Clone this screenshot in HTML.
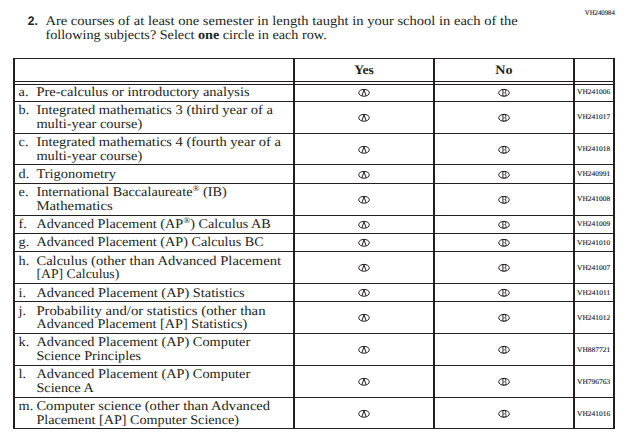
<!DOCTYPE html><html><head><meta charset="utf-8"><style>
html,body{margin:0;padding:0;background:#fff;}
body{text-rendering:geometricPrecision;width:629px;height:441px;position:relative;overflow:hidden;font-family:"Liberation Serif",serif;color:#231f20;}
.t{position:absolute;left:0;top:0;white-space:nowrap;font-size:13.2px;line-height:14px;transform-origin:0 0;}
.c{position:absolute;left:0;top:0;color:#120e10;-webkit-text-stroke:0.1px #120e10;white-space:nowrap;font-size:7.2px;line-height:8px;transform-origin:0 0;}
.h{position:absolute;left:0;top:0;font-weight:bold;font-size:13px;line-height:14px;white-space:nowrap;transform-origin:0 0;color:#231f20;}
sup{font-size:8.6px;line-height:0;vertical-align:4.6px;}
svg{position:absolute;left:0;top:0;}
</style></head><body>

<svg width="629" height="441" viewBox="0 0 629 441" shape-rendering="crispEdges"><g fill="#231f20"><rect x="13" y="58" width="602" height="1"/><rect x="13" y="81" width="602" height="1"/><rect x="13" y="84" width="602" height="1"/><rect x="13" y="101" width="602" height="1"/><rect x="13" y="133" width="602" height="1"/><rect x="13" y="164" width="602" height="1"/><rect x="13" y="183" width="602" height="1"/><rect x="13" y="215" width="602" height="1"/><rect x="13" y="233" width="602" height="1"/><rect x="13" y="251" width="602" height="1"/><rect x="13" y="283" width="602" height="1"/><rect x="13" y="301" width="602" height="1"/><rect x="13" y="333" width="602" height="1"/><rect x="13" y="365" width="602" height="1"/><rect x="13" y="397" width="602" height="1"/><rect x="13" y="428" width="602" height="1"/><rect x="13" y="58" width="2" height="371"/><rect x="293" y="58" width="2" height="371"/><rect x="433" y="58" width="2" height="371"/><rect x="573" y="58" width="2" height="371"/><rect x="613" y="58" width="2" height="371"/></g></svg>
<div class="t" style="transform:translate(27.8px,14.00px) scaleX(0.9764);font-family:'Liberation Sans',sans-serif;font-weight:bold;font-size:12.4px;color:#231f20;">2.</div>
<div class="t" style="transform:translate(45.4px,14.00px) scaleX(1.1023);">Are courses of at least one semester in length taught in your school in each of the</div>
<div class="t" style="transform:translate(45.4px,28.00px) scaleX(1.0764);">following subjects? Select <b>one</b> circle in each row.</div>
<div class="c" style="transform:translate(584.8px,9.00px) scaleX(0.9420);">VH240984</div>
<div class="h" style="transform:translate(354.3px,63.00px) scaleX(1.0436);">Yes</div>
<div class="h" style="transform:translate(495.3px,63.00px) scaleX(1.0887);">No</div>
<div class="t" style="transform:translate(18.6px,85.00px) scaleX(1.0800);">a.</div>
<div class="t" style="transform:translate(36.4px,85.00px) scaleX(1.1010);">Pre-calculus or introductory analysis</div>
<div class="c" style="transform:translate(577.0px,88.00px) scaleX(1.0390);">VH241006</div>
<div class="t" style="transform:translate(18.6px,103.00px) scaleX(1.0800);">b.</div>
<div class="t" style="transform:translate(36.4px,103.00px) scaleX(1.0989);">Integrated mathematics 3 (third year of a</div>
<div class="t" style="transform:translate(36.4px,117.00px) scaleX(1.0912);">multi-year course)</div>
<div class="c" style="transform:translate(577.0px,113.00px) scaleX(1.0390);">VH241017</div>
<div class="t" style="transform:translate(18.6px,135.00px) scaleX(1.0800);">c.</div>
<div class="t" style="transform:translate(36.4px,135.00px) scaleX(1.0987);">Integrated mathematics 4 (fourth year of a</div>
<div class="t" style="transform:translate(36.4px,149.00px) scaleX(1.0912);">multi-year course)</div>
<div class="c" style="transform:translate(577.0px,145.00px) scaleX(1.0390);">VH241018</div>
<div class="t" style="transform:translate(18.6px,167.00px) scaleX(1.0800);">d.</div>
<div class="t" style="transform:translate(36.4px,167.00px) scaleX(1.0948);">Trigonometry</div>
<div class="c" style="transform:translate(577.0px,170.00px) scaleX(1.0390);">VH240991</div>
<div class="t" style="transform:translate(18.6px,185.00px) scaleX(1.0800);">e.</div>
<div class="t" style="transform:translate(36.4px,185.00px) scaleX(1.0792);">International Baccalaureate<sup>&reg;</sup> (IB)</div>
<div class="t" style="transform:translate(36.4px,199.00px) scaleX(1.1215);">Mathematics</div>
<div class="c" style="transform:translate(577.0px,195.00px) scaleX(1.0390);">VH241008</div>
<div class="t" style="transform:translate(18.6px,217.00px) scaleX(1.0800);">f.</div>
<div class="t" style="transform:translate(36.4px,217.00px) scaleX(1.0777);">Advanced Placement (AP<sup>&reg;</sup>) Calculus AB</div>
<div class="c" style="transform:translate(577.0px,220.00px) scaleX(1.0390);">VH241009</div>
<div class="t" style="transform:translate(18.6px,235.00px) scaleX(1.0800);">g.</div>
<div class="t" style="transform:translate(36.4px,235.00px) scaleX(1.0774);">Advanced Placement (AP) Calculus BC</div>
<div class="c" style="transform:translate(577.0px,239.00px) scaleX(1.0390);">VH241010</div>
<div class="t" style="transform:translate(18.6px,254.00px) scaleX(1.0800);">h.</div>
<div class="t" style="transform:translate(36.4px,254.00px) scaleX(1.1058);">Calculus (other than Advanced Placement</div>
<div class="t" style="transform:translate(36.4px,267.00px) scaleX(1.0430);">[AP] Calculus)</div>
<div class="c" style="transform:translate(577.0px,264.00px) scaleX(1.0390);">VH241007</div>
<div class="t" style="transform:translate(18.6px,286.00px) scaleX(1.0800);">i.</div>
<div class="t" style="transform:translate(36.4px,286.00px) scaleX(1.0869);">Advanced Placement (AP) Statistics</div>
<div class="c" style="transform:translate(577.0px,289.00px) scaleX(1.0477);">VH241011</div>
<div class="t" style="transform:translate(18.6px,304.00px) scaleX(1.0800);">j.</div>
<div class="t" style="transform:translate(36.4px,304.00px) scaleX(1.1170);">Probability and/or statistics (other than</div>
<div class="t" style="transform:translate(36.4px,317.00px) scaleX(1.0759);">Advanced Placement [AP] Statistics)</div>
<div class="c" style="transform:translate(577.0px,314.00px) scaleX(1.0390);">VH241012</div>
<div class="t" style="transform:translate(18.6px,335.00px) scaleX(1.0800);">k.</div>
<div class="t" style="transform:translate(36.4px,335.00px) scaleX(1.0871);">Advanced Placement (AP) Computer</div>
<div class="t" style="transform:translate(36.4px,349.00px) scaleX(1.0778);">Science Principles</div>
<div class="c" style="transform:translate(577.0px,346.00px) scaleX(1.0390);">VH887721</div>
<div class="t" style="transform:translate(18.6px,367.00px) scaleX(1.0800);">l.</div>
<div class="t" style="transform:translate(36.4px,367.00px) scaleX(1.0871);">Advanced Placement (AP) Computer</div>
<div class="t" style="transform:translate(36.4px,381.00px) scaleX(1.0789);">Science A</div>
<div class="c" style="transform:translate(577.0px,378.00px) scaleX(1.0390);">VH796763</div>
<div class="t" style="transform:translate(18.6px,399.00px) scaleX(1.0800);">m.</div>
<div class="t" style="transform:translate(36.4px,399.00px) scaleX(1.1041);">Computer science (other than Advanced</div>
<div class="t" style="transform:translate(36.4px,413.00px) scaleX(1.0742);">Placement [AP] Computer Science)</div>
<div class="c" style="transform:translate(577.0px,410.00px) scaleX(1.0390);">VH241016</div>
<svg width="629" height="441" viewBox="0 0 629 441"><g fill="none" stroke="#231f20" stroke-width="1.0"><ellipse cx="364" cy="92.8" rx="5.3" ry="3.42"/><path d="M361.9 95.80 L364 89.80 L366.1 95.80" stroke-width="1.0"/><ellipse cx="504" cy="92.8" rx="5.3" ry="3.42"/><path d="M502.9 89.50 V96.10" stroke-width="0.95"/><path d="M504.6 89.70 Q505.9 89.70 505.9 91.20 Q505.9 92.60 504.9 92.70 Q506.1 92.80 506.1 94.30 Q506.1 95.90 504.6 95.90" stroke-width="0.8"/><path d="M502.9 89.70 H504.6 M502.9 95.90 H504.6 M503.2 92.70 H504.9" stroke-width="0.45"/><ellipse cx="364" cy="117.8" rx="5.3" ry="3.42"/><path d="M361.9 120.80 L364 114.80 L366.1 120.80" stroke-width="1.0"/><ellipse cx="504" cy="117.8" rx="5.3" ry="3.42"/><path d="M502.9 114.50 V121.10" stroke-width="0.95"/><path d="M504.6 114.70 Q505.9 114.70 505.9 116.20 Q505.9 117.60 504.9 117.70 Q506.1 117.80 506.1 119.30 Q506.1 120.90 504.6 120.90" stroke-width="0.8"/><path d="M502.9 114.70 H504.6 M502.9 120.90 H504.6 M503.2 117.70 H504.9" stroke-width="0.45"/><ellipse cx="364" cy="149.8" rx="5.3" ry="3.42"/><path d="M361.9 152.80 L364 146.80 L366.1 152.80" stroke-width="1.0"/><ellipse cx="504" cy="149.8" rx="5.3" ry="3.42"/><path d="M502.9 146.50 V153.10" stroke-width="0.95"/><path d="M504.6 146.70 Q505.9 146.70 505.9 148.20 Q505.9 149.60 504.9 149.70 Q506.1 149.80 506.1 151.30 Q506.1 152.90 504.6 152.90" stroke-width="0.8"/><path d="M502.9 146.70 H504.6 M502.9 152.90 H504.6 M503.2 149.70 H504.9" stroke-width="0.45"/><ellipse cx="364" cy="174.8" rx="5.3" ry="3.42"/><path d="M361.9 177.80 L364 171.80 L366.1 177.80" stroke-width="1.0"/><ellipse cx="504" cy="174.8" rx="5.3" ry="3.42"/><path d="M502.9 171.50 V178.10" stroke-width="0.95"/><path d="M504.6 171.70 Q505.9 171.70 505.9 173.20 Q505.9 174.60 504.9 174.70 Q506.1 174.80 506.1 176.30 Q506.1 177.90 504.6 177.90" stroke-width="0.8"/><path d="M502.9 171.70 H504.6 M502.9 177.90 H504.6 M503.2 174.70 H504.9" stroke-width="0.45"/><ellipse cx="364" cy="199.8" rx="5.3" ry="3.42"/><path d="M361.9 202.80 L364 196.80 L366.1 202.80" stroke-width="1.0"/><ellipse cx="504" cy="199.8" rx="5.3" ry="3.42"/><path d="M502.9 196.50 V203.10" stroke-width="0.95"/><path d="M504.6 196.70 Q505.9 196.70 505.9 198.20 Q505.9 199.60 504.9 199.70 Q506.1 199.80 506.1 201.30 Q506.1 202.90 504.6 202.90" stroke-width="0.8"/><path d="M502.9 196.70 H504.6 M502.9 202.90 H504.6 M503.2 199.70 H504.9" stroke-width="0.45"/><ellipse cx="364" cy="224.8" rx="5.3" ry="3.42"/><path d="M361.9 227.80 L364 221.80 L366.1 227.80" stroke-width="1.0"/><ellipse cx="504" cy="224.8" rx="5.3" ry="3.42"/><path d="M502.9 221.50 V228.10" stroke-width="0.95"/><path d="M504.6 221.70 Q505.9 221.70 505.9 223.20 Q505.9 224.60 504.9 224.70 Q506.1 224.80 506.1 226.30 Q506.1 227.90 504.6 227.90" stroke-width="0.8"/><path d="M502.9 221.70 H504.6 M502.9 227.90 H504.6 M503.2 224.70 H504.9" stroke-width="0.45"/><ellipse cx="364" cy="242.8" rx="5.3" ry="3.42"/><path d="M361.9 245.80 L364 239.80 L366.1 245.80" stroke-width="1.0"/><ellipse cx="504" cy="242.8" rx="5.3" ry="3.42"/><path d="M502.9 239.50 V246.10" stroke-width="0.95"/><path d="M504.6 239.70 Q505.9 239.70 505.9 241.20 Q505.9 242.60 504.9 242.70 Q506.1 242.80 506.1 244.30 Q506.1 245.90 504.6 245.90" stroke-width="0.8"/><path d="M502.9 239.70 H504.6 M502.9 245.90 H504.6 M503.2 242.70 H504.9" stroke-width="0.45"/><ellipse cx="364" cy="267.8" rx="5.3" ry="3.42"/><path d="M361.9 270.80 L364 264.80 L366.1 270.80" stroke-width="1.0"/><ellipse cx="504" cy="267.8" rx="5.3" ry="3.42"/><path d="M502.9 264.50 V271.10" stroke-width="0.95"/><path d="M504.6 264.70 Q505.9 264.70 505.9 266.20 Q505.9 267.60 504.9 267.70 Q506.1 267.80 506.1 269.30 Q506.1 270.90 504.6 270.90" stroke-width="0.8"/><path d="M502.9 264.70 H504.6 M502.9 270.90 H504.6 M503.2 267.70 H504.9" stroke-width="0.45"/><ellipse cx="364" cy="292.8" rx="5.3" ry="3.42"/><path d="M361.9 295.80 L364 289.80 L366.1 295.80" stroke-width="1.0"/><ellipse cx="504" cy="292.8" rx="5.3" ry="3.42"/><path d="M502.9 289.50 V296.10" stroke-width="0.95"/><path d="M504.6 289.70 Q505.9 289.70 505.9 291.20 Q505.9 292.60 504.9 292.70 Q506.1 292.80 506.1 294.30 Q506.1 295.90 504.6 295.90" stroke-width="0.8"/><path d="M502.9 289.70 H504.6 M502.9 295.90 H504.6 M503.2 292.70 H504.9" stroke-width="0.45"/><ellipse cx="364" cy="317.8" rx="5.3" ry="3.42"/><path d="M361.9 320.80 L364 314.80 L366.1 320.80" stroke-width="1.0"/><ellipse cx="504" cy="317.8" rx="5.3" ry="3.42"/><path d="M502.9 314.50 V321.10" stroke-width="0.95"/><path d="M504.6 314.70 Q505.9 314.70 505.9 316.20 Q505.9 317.60 504.9 317.70 Q506.1 317.80 506.1 319.30 Q506.1 320.90 504.6 320.90" stroke-width="0.8"/><path d="M502.9 314.70 H504.6 M502.9 320.90 H504.6 M503.2 317.70 H504.9" stroke-width="0.45"/><ellipse cx="364" cy="349.8" rx="5.3" ry="3.42"/><path d="M361.9 352.80 L364 346.80 L366.1 352.80" stroke-width="1.0"/><ellipse cx="504" cy="349.8" rx="5.3" ry="3.42"/><path d="M502.9 346.50 V353.10" stroke-width="0.95"/><path d="M504.6 346.70 Q505.9 346.70 505.9 348.20 Q505.9 349.60 504.9 349.70 Q506.1 349.80 506.1 351.30 Q506.1 352.90 504.6 352.90" stroke-width="0.8"/><path d="M502.9 346.70 H504.6 M502.9 352.90 H504.6 M503.2 349.70 H504.9" stroke-width="0.45"/><ellipse cx="364" cy="381.8" rx="5.3" ry="3.42"/><path d="M361.9 384.80 L364 378.80 L366.1 384.80" stroke-width="1.0"/><ellipse cx="504" cy="381.8" rx="5.3" ry="3.42"/><path d="M502.9 378.50 V385.10" stroke-width="0.95"/><path d="M504.6 378.70 Q505.9 378.70 505.9 380.20 Q505.9 381.60 504.9 381.70 Q506.1 381.80 506.1 383.30 Q506.1 384.90 504.6 384.90" stroke-width="0.8"/><path d="M502.9 378.70 H504.6 M502.9 384.90 H504.6 M503.2 381.70 H504.9" stroke-width="0.45"/><ellipse cx="364" cy="413.8" rx="5.3" ry="3.42"/><path d="M361.9 416.80 L364 410.80 L366.1 416.80" stroke-width="1.0"/><ellipse cx="504" cy="413.8" rx="5.3" ry="3.42"/><path d="M502.9 410.50 V417.10" stroke-width="0.95"/><path d="M504.6 410.70 Q505.9 410.70 505.9 412.20 Q505.9 413.60 504.9 413.70 Q506.1 413.80 506.1 415.30 Q506.1 416.90 504.6 416.90" stroke-width="0.8"/><path d="M502.9 410.70 H504.6 M502.9 416.90 H504.6 M503.2 413.70 H504.9" stroke-width="0.45"/></g></svg>
</body></html>
